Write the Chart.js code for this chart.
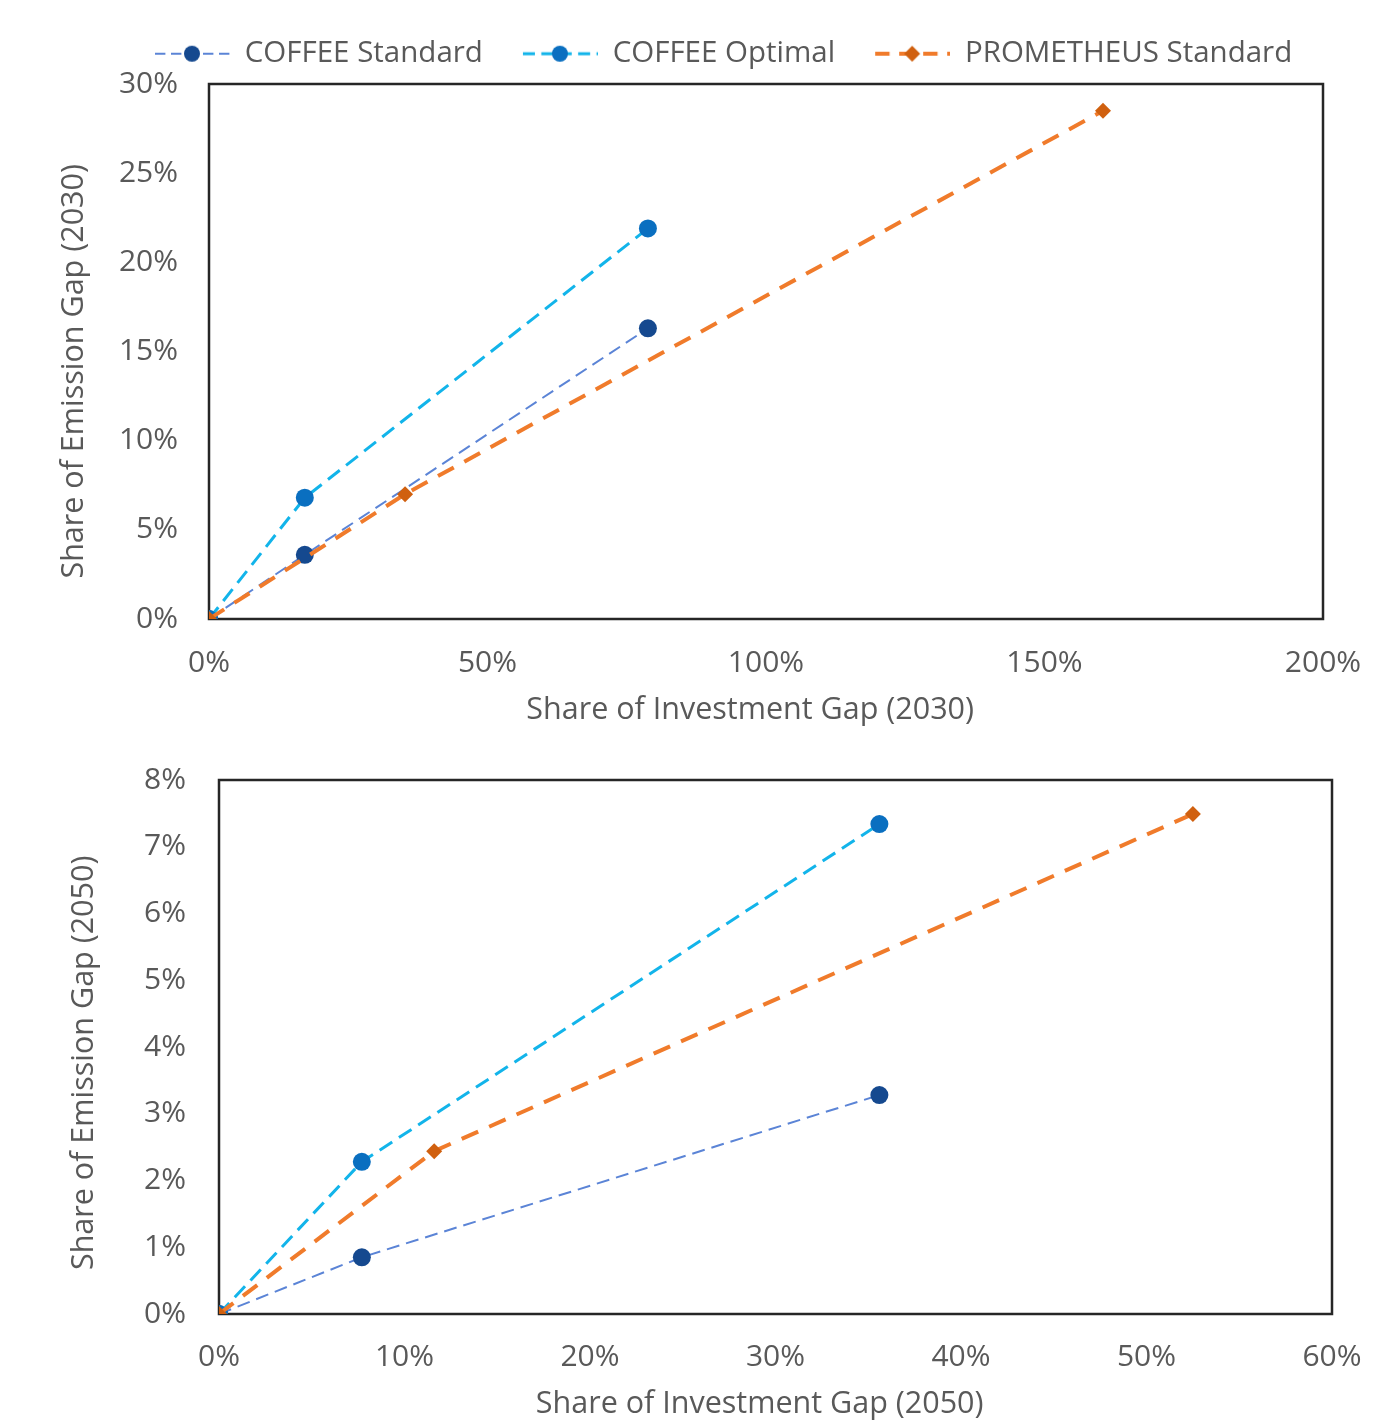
<!DOCTYPE html>
<html>
<head>
<meta charset="utf-8">
<script src="https://cdn.jsdelivr.net/npm/chart.js@4"></script>
<style>
  body { margin: 0; background: #fff; }
  .wrap { position: absolute; left: 0; width: 1389px; }
</style>
</head>
<body>
<div class="wrap" style="top:0"><canvas id="chart2030" width="1389" height="740"></canvas></div>
<div class="wrap" style="top:740px"><canvas id="chart2050" width="1389" height="683"></canvas></div>
<script>
const seriesNames = ['COFFEE Standard', 'COFFEE Optimal', 'PROMETHEUS Standard'];

// 2030 panel (x: share of investment gap %, y: share of emission gap %)
const std2030X = [0, 17.2, 78.8];
const std2030Y = [0, 3.6, 16.3];
const opt2030X = [0, 17.2, 78.8];
const opt2030Y = [0, 6.8, 21.9];
const pro2030X = [0, 35.2, 160.5];
const pro2030Y = [0, 7.0, 28.5];

// 2050 panel
const std2050X = [0, 7.7, 35.6];
const std2050Y = [0, 0.85, 3.28];
const opt2050X = [0, 7.7, 35.6];
const opt2050Y = [0, 2.28, 7.34];
const pro2050X = [0, 11.6, 52.5];
const pro2050Y = [0, 2.44, 7.49];

const styles = [
  { line: '#5b84d6', point: '#15498f', width: 2, dash: [13, 7], shape: 'circle', r: 9 },
  { line: '#12b4ea', point: '#0a6fc0', width: 3, dash: [15, 8], shape: 'circle', r: 9 },
  { line: '#f07b2b', point: '#d0600f', width: 4, dash: [18, 12], shape: 'rectRot', r: 8 }
];

const textColor = '#595959';
const family = '"Open Sans", "Noto Sans", sans-serif';
const tickFont = { family: family, size: 30 };
const titleFont = { family: family, size: 30.5 };
const legendFont = { family: family, size: 29.5 };

// trailing no-break spaces nudge the centred axis titles like in the original
const pad = n => '\u00a0'.repeat(n);

function pairs(xs, ys) {
  return xs.map((x, i) => ({ x: x, y: ys[i] }));
}

function makeIcon(s) {
  const c = document.createElement('canvas');
  c.width = 105; c.height = 24;
  const g = c.getContext('2d');
  g.strokeStyle = s.line;
  g.lineWidth = s.width;
  g.setLineDash(s.dash.map(d => d * 0.8));
  g.beginPath(); g.moveTo(30, 12); g.lineTo(105, 12); g.stroke();
  g.setLineDash([]);
  g.fillStyle = s.point;
  g.beginPath();
  if (s.shape === 'circle') {
    g.arc(67, 12, 8, 0, Math.PI * 2);
  } else {
    g.moveTo(67, 4); g.lineTo(75, 12); g.lineTo(67, 20); g.lineTo(59, 12); g.closePath();
  }
  g.fill();
  return c;
}
const icons = styles.map(makeIcon);

// plot box + legend placement
const frame = {
  id: 'frame',
  beforeUpdate(chart, args, opts) {
    const lg = chart.legend;
    if (lg && !lg._patched && opts.legendHeight) {
      const fit = lg.fit.bind(lg);
      lg.fit = function () { fit(); this.height = opts.legendHeight; };
      lg._patched = true;
    }
  },
  afterLayout(chart, args, opts) {
    if (chart.legend && opts.legendLeft != null) chart.legend.left = opts.legendLeft;
  },
  beforeDatasetsDraw(chart) {
    const a = chart.chartArea, ctx = chart.ctx;
    ctx.save();
    ctx.strokeStyle = '#262626';
    ctx.lineWidth = 2.5;
    ctx.strokeRect(a.left, a.top, a.right - a.left, a.bottom - a.top);
    ctx.restore();
  }
};

function makeDatasets(data) {
  return data.map((d, i) => ({
    label: seriesNames[i],
    data: d,
    showLine: true,
    borderColor: styles[i].line,
    borderWidth: styles[i].width,
    borderDash: styles[i].dash,
    pointStyle: styles[i].shape,
    pointRadius: styles[i].r,
    pointBackgroundColor: styles[i].point,
    pointBorderWidth: 0,
    order: 3 - i
  }));
}

function makeChart(id, data, xMax, xStep, yMax, yStep, xTitle, yTitle, lay) {
  return new Chart(document.getElementById(id), {
    type: 'scatter',
    data: { datasets: makeDatasets(data) },
    options: {
      responsive: false,
      animation: false,
      layout: { padding: { left: 0, right: lay.right, top: lay.top, bottom: 0 } },
      plugins: {
        tooltip: { enabled: false },
        frame: { legendHeight: lay.legendHeight, legendLeft: lay.legendLeft },
        legend: {
          display: lay.legend,
          align: 'start',
          labels: {
            usePointStyle: true,
            pointStyleWidth: 105,
            padding: 10,
            font: legendFont,
            color: textColor,
            generateLabels: chart => chart.data.datasets.map((ds, i) => ({
              text: ds.label,
              pointStyle: icons[i],
              datasetIndex: i,
              fontColor: textColor,
              fillStyle: 'transparent',
              strokeStyle: 'transparent',
              lineWidth: 0,
              hidden: false
            }))
          }
        }
      },
      scales: {
        x: {
          type: 'linear',
          min: 0, max: xMax,
          grid: { display: false, drawTicks: false },
          border: { display: false },
          ticks: { stepSize: xStep, padding: lay.xTickPad, font: tickFont, color: textColor, callback: v => v + '%' },
          title: { display: true, text: xTitle + pad(4), font: titleFont, color: textColor, padding: { top: 0, bottom: lay.xTitlePad } },
          afterFit: s => { s.height = lay.xHeight; }
        },
        y: {
          type: 'linear',
          min: 0, max: yMax,
          grid: { display: false, drawTicks: false },
          border: { display: false },
          ticks: { stepSize: yStep, padding: lay.yTickPad, font: tickFont, color: textColor, callback: v => v + '%' },
          title: { display: true, text: yTitle + pad(lay.yShift), font: titleFont, color: textColor, padding: { top: lay.yTitlePad, bottom: 0 } },
          afterFit: s => { s.width = lay.yWidth; s.paddingTop = 18; s.paddingBottom = 18; }
        }
      }
    },
    plugins: [frame]
  });
}

makeChart('chart2030',
  [pairs(std2030X, std2030Y), pairs(opt2030X, opt2030Y), pairs(pro2030X, pro2030Y)],
  200, 50, 30, 5,
  'Share of Investment Gap (2030)', 'Share of Emission Gap (2030)',
  { legend: true, top: 29, legendHeight: 55, legendLeft: 115, right: 66, xHeight: 121, yWidth: 209,
    xTickPad: 26, xTitlePad: 11.5, yTickPad: 31, yTitlePad: 56.5, yShift: 5 });

makeChart('chart2050',
  [pairs(std2050X, std2050Y), pairs(opt2050X, opt2050Y), pairs(pro2050X, pro2050Y)],
  60, 10, 8, 1,
  'Share of Investment Gap (2050)', 'Share of Emission Gap (2050)',
  { legend: false, top: 40, right: 57, xHeight: 109, yWidth: 219,
    xTickPad: 25, xTitlePad: 0, yTickPad: 33, yTitlePad: 66.5, yShift: 4 });
</script>
</body>
</html>
